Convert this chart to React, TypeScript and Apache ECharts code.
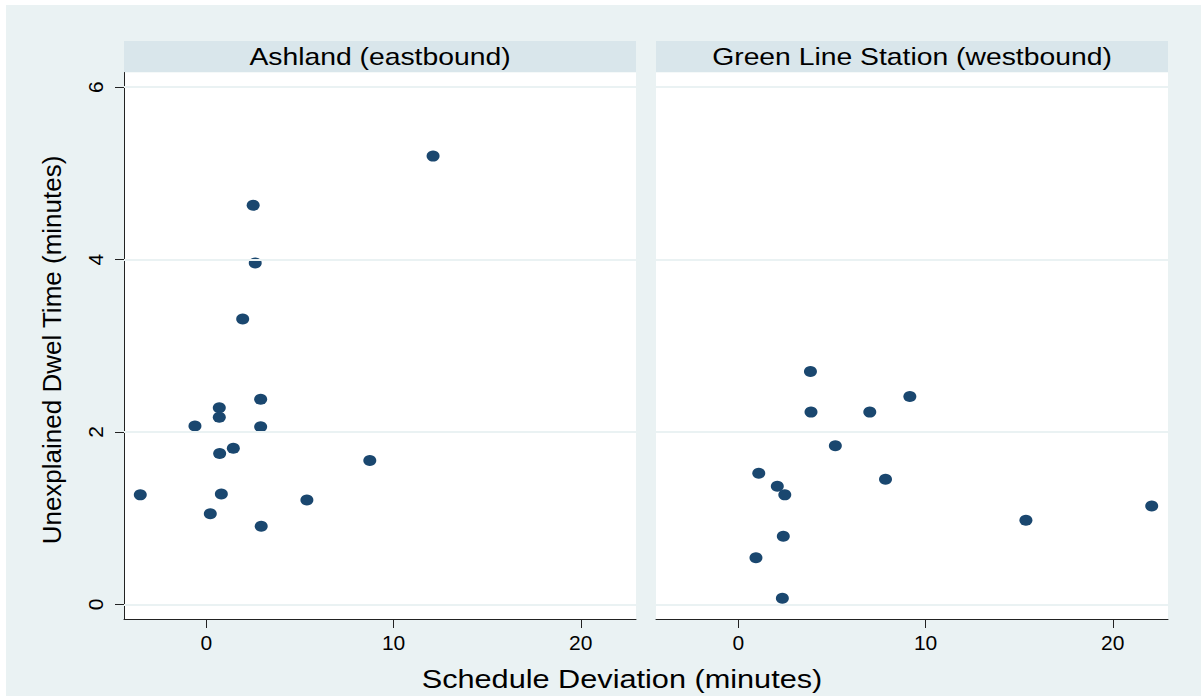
import React, { useEffect, useRef } from "react";
import * as echarts from "echarts";

// Schedule deviation (minutes) and unexplained dwell time (minutes), one pair per trip
const eastX = [-3.53, -0.61, 0.69, 0.69, 2.9, 2.9, 0.71, 1.44, 8.73, 0.8, 0.21, 5.37, 2.93, 1.94, 2.61, 2.5, 12.11];
const eastY = [1.27, 2.07, 2.28, 2.17, 2.38, 2.06, 1.75, 1.81, 1.67, 1.28, 1.05, 1.21, 0.905, 3.31, 3.96, 4.63, 5.2];
const westX = [3.85, 3.88, 7.02, 9.16, 5.18, 1.09, 2.08, 2.48, 7.86, 2.4, 0.94, 2.35, 15.36, 22.08];
const westY = [2.7, 2.23, 2.23, 2.41, 1.84, 1.52, 1.37, 1.27, 1.45, 0.79, 0.54, 0.07, 0.975, 1.14];

const panelTitles = ["Ashland (eastbound)", "Green Line Station (westbound)"];
const xTicks = [0, 10, 20];
const yTicks = [0, 2, 4, 6];
const xTitle = "Schedule Deviation (minutes)";
const yTitle = "Unexplained Dwel Time (minutes)";

const X_MIN = -4.4;
const X_MAX = 22.95;
const Y_MIN = -0.17;
const Y_MAX = 6.17;

const FONT = "'Liberation Sans', Arial, Helvetica, sans-serif";
const BG = "#eaf2f3";
const STRIP = "#d9e6eb";
const MARKER = "#1a476f";
const STRETCH = 1.18;

const PANEL_LEFT = [124, 656];
const PANEL_W = 512;
const PANEL_TOP = 72.5;
const PANEL_H = 546.5;
const STRIP_TOP = 41;

function pairs(xs: number[], ys: number[]) {
  return xs.map((x, i) => [x, ys[i]]);
}

export default function App() {
  const ref = useRef<HTMLDivElement>(null);

  useEffect(() => {
    document.body.style.margin = "0";
    document.body.style.overflow = "hidden";
    if (!ref.current) return;
    const chart = echarts.init(ref.current, undefined, { renderer: "svg" });

    const grids = PANEL_LEFT.map((left) => ({
      left,
      top: PANEL_TOP,
      width: PANEL_W,
      height: PANEL_H,
      show: true,
      backgroundColor: "#ffffff",
      borderWidth: 0,
    }));

    const xAxes = [0, 1].map((i) => ({
      type: "value",
      gridIndex: i,
      min: X_MIN,
      max: X_MAX,
      axisLine: { show: true, onZero: false, lineStyle: { color: "#222", width: 1 } },
      axisTick: { show: true, length: 9, customValues: xTicks, lineStyle: { color: "#222", width: 1 } },
      axisLabel: {
        show: true,
        customValues: xTicks,
        margin: 13,
        fontSize: 21,
        color: "#000",
        fontFamily: FONT,
      },
      splitLine: { show: false },
    }));

    const yAxes = [0, 1].map((i) => ({
      type: "value",
      gridIndex: i,
      min: Y_MIN,
      max: Y_MAX,
      axisLine: { show: i === 0, onZero: false, lineStyle: { color: "#222", width: 1 } },
      axisTick: { show: i === 0, length: 9, customValues: yTicks, lineStyle: { color: "#222", width: 1 } },
      axisLabel: {
        show: i === 0,
        customValues: yTicks,
        rotate: 90,
        margin: 18,
        fontSize: 21,
        color: "#000",
        fontFamily: FONT,
      },
      splitLine: { show: false },
    }));

    const gridLines = [0, 1].map((i) => ({
      type: "scatter",
      xAxisIndex: i,
      yAxisIndex: i,
      data: [],
      z: 1,
      silent: true,
      markLine: {
        silent: true,
        symbol: "none",
        label: { show: false },
        lineStyle: { color: BG, width: 2, type: "solid" },
        emphasis: { disabled: true },
        data: yTicks.map((v) => ({ yAxis: v })),
      },
    }));

    const points = [pairs(eastX, eastY), pairs(westX, westY)].map((data, i) => ({
      type: "scatter",
      xAxisIndex: i,
      yAxisIndex: i,
      data,
      z: 3,
      symbol: "circle",
      symbolSize: [13, 11],
      itemStyle: { color: MARKER, opacity: 1 },
    }));

    const strips = PANEL_LEFT.flatMap((left, i) => [
      {
        type: "rect",
        shape: { x: left, y: STRIP_TOP, width: PANEL_W, height: PANEL_TOP - STRIP_TOP - 0.5 },
        style: { fill: STRIP },
        silent: true,
      },
      {
        type: "text",
        x: left + PANEL_W / 2,
        y: (STRIP_TOP + PANEL_TOP) / 2,
        scaleX: STRETCH,
        style: {
          text: panelTitles[i],
          fontSize: 24,
          fontFamily: FONT,
          fill: "#000",
          textAlign: "center",
          textVerticalAlign: "middle",
        },
        silent: true,
      },
    ]);

    chart.setOption({
      animation: false,
      backgroundColor: "transparent",
      grid: grids,
      xAxis: xAxes,
      yAxis: yAxes,
      series: [...gridLines, ...points],
      graphic: [
        ...strips,
        {
          type: "text",
          x: 622,
          y: 679,
          scaleX: STRETCH,
          style: {
            text: xTitle,
            fontSize: 26,
            fontFamily: FONT,
            fill: "#000",
            textAlign: "center",
            textVerticalAlign: "middle",
          },
          silent: true,
        },
        {
          type: "text",
          x: 52,
          y: 350,
          rotation: Math.PI / 2,
          style: {
            text: yTitle,
            fontSize: 26,
            fontFamily: FONT,
            fill: "#000",
            textAlign: "center",
            textVerticalAlign: "middle",
          },
          silent: true,
        },
      ],
    });

    return () => chart.dispose();
  }, []);

  return (
    <div
      ref={ref}
      style={{
        width: 1201,
        height: 696,
        background: BG,
        boxShadow: "inset 6px 5px 0 #ffffff",
      }}
    />
  );
}
